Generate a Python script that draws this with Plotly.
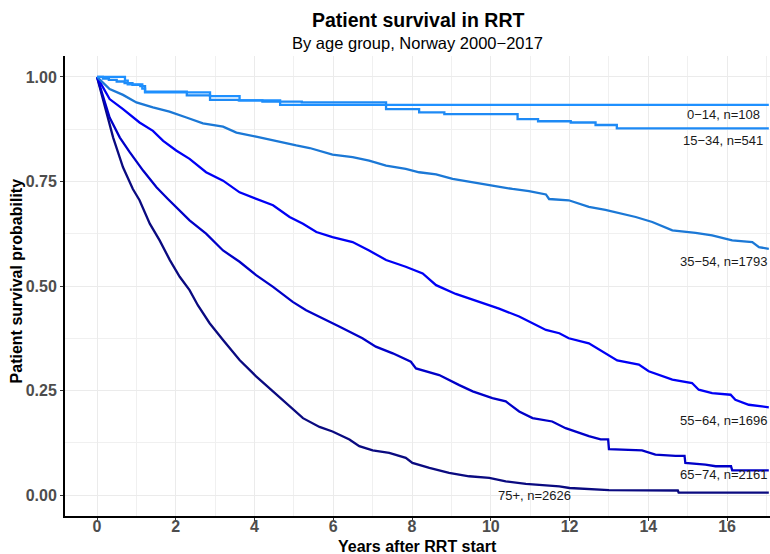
import plotly.graph_objects as go

# ---- data ----
groups = ["0−14, n=108", "15−34, n=541", "35−54, n=1793", "55−64, n=1696", "65−74, n=2161", "75+, n=2626"]

t_0_14 = [0, 0.71, 0.78, 1.15, 1.22, 2.87, 3.62, 4.65, 17.06]
s_0_14 = [1, 0.991, 0.982, 0.972, 0.963, 0.954, 0.944, 0.933, 0.933]

t_15_34 = [0, 0.15, 0.3, 0.5, 0.7, 0.9, 1.1, 1.22, 2.28, 2.87, 3.6, 4.2, 5.2, 7.34, 8.18, 8.82,
           10.68, 11.2, 12.03, 12.66, 13.2, 17.06]
s_15_34 = [1, 0.996, 0.993, 0.989, 0.985, 0.981, 0.978, 0.965, 0.956, 0.945, 0.944, 0.941, 0.939,
           0.923, 0.915, 0.911, 0.899, 0.894, 0.891, 0.885, 0.877, 0.877]

t_35_54 = [0, 0.32, 0.66, 1.0, 1.42, 1.84, 2.27, 2.69, 3.2, 3.54, 4.04, 4.55, 5.06, 5.40, 5.98, 6.49,
           6.91, 7.34, 7.84, 8.18, 8.61, 9.03, 9.45, 10.04, 10.55, 10.97, 11.4, 11.48, 11.98, 12.49,
           12.91, 13.25, 13.68, 14.1, 14.61, 15.2, 15.62, 16.13, 16.64, 16.81, 17.06]
s_35_54 = [1, 0.971, 0.957, 0.939, 0.927, 0.917, 0.903, 0.889, 0.881, 0.867, 0.857, 0.846, 0.836,
           0.830, 0.814, 0.808, 0.800, 0.788, 0.780, 0.772, 0.767, 0.756, 0.750, 0.740, 0.732, 0.727,
           0.719, 0.708, 0.705, 0.689, 0.682, 0.674, 0.665, 0.653, 0.633, 0.627, 0.621, 0.609, 0.605,
           0.593, 0.589]

t_55_64 = [0, 0.32, 0.66, 1.08, 1.42, 1.68, 2.01, 2.35, 2.77, 3.2, 3.62, 4.04, 4.47, 4.89, 5.23, 5.57,
           5.98, 6.49, 6.91, 7.34, 7.84, 8.27, 8.61, 9.11, 9.71, 10.21, 10.72, 11.14, 11.4, 11.74,
           11.98, 12.49, 12.91, 13.21, 13.76, 14.01, 14.61, 15.11, 15.28, 15.62, 16.09, 16.21, 16.55, 17.06]
s_55_64 = [1, 0.947, 0.923, 0.891, 0.871, 0.847, 0.824, 0.804, 0.772, 0.752, 0.724, 0.708, 0.693,
           0.665, 0.649, 0.629, 0.617, 0.605, 0.585, 0.562, 0.546, 0.530, 0.502, 0.481, 0.462, 0.446,
           0.427, 0.407, 0.395, 0.387, 0.375, 0.363, 0.340, 0.322, 0.312, 0.296, 0.276, 0.268, 0.252,
           0.244, 0.240, 0.228, 0.216, 0.210]

t_65_74 = [0, 0.32, 0.58, 0.83, 1.17, 1.51, 1.80, 2.10, 2.35, 2.77, 3.2, 3.62, 4.04, 4.47, 4.97, 5.31,
           5.74, 6.15, 6.74, 7.08, 7.51, 7.97, 8.1, 8.69, 9.2, 9.54, 10.04, 10.38, 10.72, 11.06, 11.56,
           11.9, 12.49, 12.79, 12.98, 13.0, 13.84, 14.18, 14.69, 14.92, 14.94, 15.45, 15.71, 16.1, 16.13, 17.06]
s_65_74 = [1, 0.903, 0.855, 0.820, 0.776, 0.736, 0.708, 0.681, 0.657, 0.625, 0.585, 0.558, 0.526,
           0.498, 0.462, 0.442, 0.423, 0.403, 0.375, 0.355, 0.339, 0.319, 0.303, 0.287, 0.263, 0.248,
           0.232, 0.224, 0.200, 0.184, 0.176, 0.160, 0.141, 0.133, 0.133, 0.110, 0.107, 0.097, 0.094,
           0.094, 0.077, 0.073, 0.069, 0.069, 0.059, 0.059]

t_75 = [0, 0.41, 0.66, 0.91, 1.08, 1.34, 1.59, 1.85, 2.10, 2.35, 2.56, 2.86, 3.2, 3.62, 4.04, 4.47,
        4.89, 5.23, 5.65, 5.98, 6.41, 6.66, 7.0, 7.42, 7.84, 8.01, 8.44, 8.94, 9.45, 9.96, 10.38,
        10.89, 11.74, 12.0, 13.0, 14.4, 14.75, 14.77, 17.06]
s_75 = [1, 0.855, 0.784, 0.732, 0.705, 0.649, 0.609, 0.562, 0.522, 0.490, 0.454, 0.411, 0.371, 0.323,
        0.284, 0.248, 0.212, 0.184, 0.163, 0.152, 0.133, 0.117, 0.107, 0.101, 0.089, 0.077, 0.065,
        0.053, 0.045, 0.041, 0.033, 0.027, 0.021, 0.017, 0.012, 0.011, 0.011, 0.006, 0.006]

series_t = [t_0_14, t_15_34, t_35_54, t_55_64, t_65_74, t_75]
series_s = [s_0_14, s_15_34, s_35_54, s_55_64, s_65_74, s_75]
shapes = ["hv", "hv", "linear", "linear", "linear", "linear"]
colors = ["#1E90FF", "#1E8AF5", "#1B78D6", "#0000F5", "#0000C8", "#0A0A80"]

# label positions (data coords)
label_x = [15.9, 15.9, 15.9, 15.9, 15.9, 11.12]
label_y = [0.909, 0.847, 0.558, 0.179, 0.049, -0.002]

x_ticks = [0, 2, 4, 6, 8, 10, 12, 14, 16]
y_ticks = [0, 0.25, 0.5, 0.75, 1.0]
y_ticklabels = ["0.00", "0.25", "0.50", "0.75", "1.00"]

FONT = "Liberation Sans"

fig = go.Figure()
for i in reversed(range(len(groups))):
    fig.add_trace(go.Scatter(x=series_t[i], y=series_s[i], mode="lines",
                             line=dict(color=colors[i], width=2.3, shape=shapes[i]),
                             name=groups[i], showlegend=False, hoverinfo="skip"))

for i, g in enumerate(groups):
    fig.add_annotation(x=label_x[i], y=label_y[i], text=g, showarrow=False,
                       font=dict(family=FONT, size=13, color="#1a1a1a"),
                       xanchor="center", yanchor="middle")

fig.add_annotation(x=0.5, y=1.078, xref="paper", yref="paper", text="<b>Patient survival in RRT</b>",
                   showarrow=False, font=dict(family=FONT, size=19.5, color="black"),
                   xanchor="center", yanchor="middle")
fig.add_annotation(x=0.5, y=1.028, xref="paper", yref="paper", text="By age group, Norway 2000−2017",
                   showarrow=False, font=dict(family=FONT, size=16.5, color="black"),
                   xanchor="center", yanchor="middle")
fig.add_annotation(x=0.5, y=-0.066, xref="paper", yref="paper", text="<b>Years after RRT start</b>",
                   showarrow=False, font=dict(family=FONT, size=16, color="black"),
                   xanchor="center", yanchor="middle")
fig.add_annotation(x=-0.0695, y=0.51, xref="paper", yref="paper", text="<b>Patient survival probability</b>",
                   showarrow=False, textangle=-90, font=dict(family=FONT, size=16, color="black"),
                   xanchor="center", yanchor="middle")

axis_common = dict(showline=True, linecolor="black", linewidth=2, ticks="outside", ticklen=3,
                   tickcolor="#333333", tickwidth=1, gridcolor="#EBEBEB", gridwidth=1.1,
                   zeroline=False,
                   tickfont=dict(family=FONT, size=16, color="#4D4D4D", weight="bold"))

fig.update_xaxes(range=[-0.813, 17.09], tickvals=x_ticks, ticktext=[str(v) for v in x_ticks],
                 ticklabelstandoff=-8,
                 minor=dict(dtick=1, tick0=0, showgrid=True, gridcolor="#F0F0F0", gridwidth=0.8, ticks=""),
                 **axis_common)
fig.update_yaxes(range=[-0.05, 1.05], tickvals=y_ticks, ticktext=y_ticklabels,
                 minor=dict(dtick=0.125, tick0=0, showgrid=True, gridcolor="#F0F0F0", gridwidth=0.8, ticks=""),
                 **axis_common)

fig.update_layout(width=770, height=554, margin=dict(l=65, r=0, t=56, b=38),
                  plot_bgcolor="white", paper_bgcolor="white",
                  font=dict(family=FONT))

fig.write_html("out.html")
